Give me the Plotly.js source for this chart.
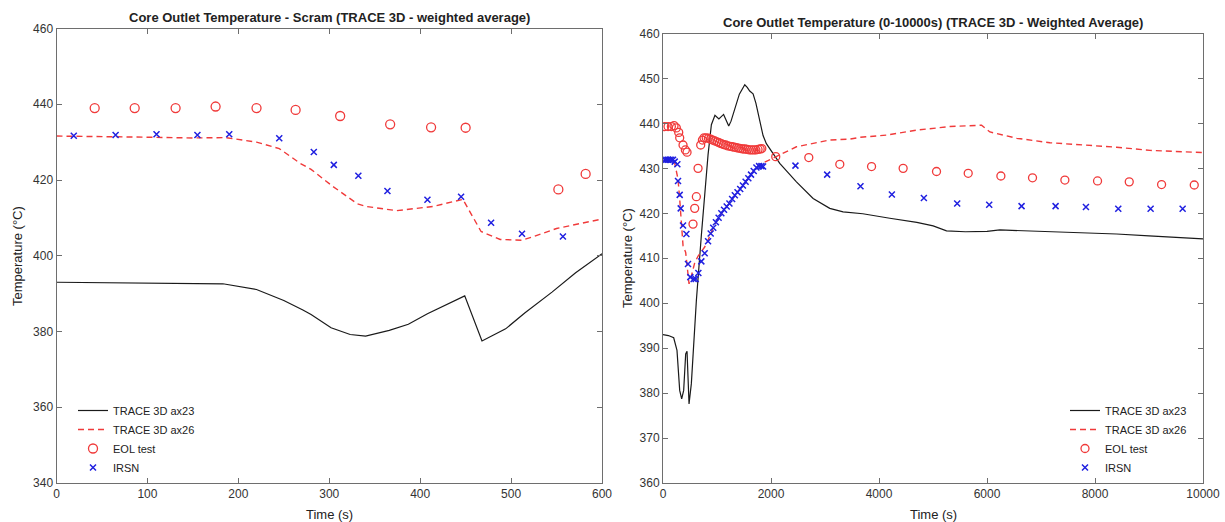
<!DOCTYPE html>
<html>
<head>
<meta charset="utf-8">
<script src="https://cdn.plot.ly/plotly-3.0.1.min.js"></script>
<style>html,body{margin:0;padding:0;background:#fff}#chart{width:1225px;height:522px}</style>
</head>
<body>
<div id="chart"></div>
<script>
// ---------- Left chart: Scram (0-600 s) ----------
const L_t_ax23 = [0, 50, 100, 150, 183, 220, 250, 271, 280, 302, 323, 340, 366, 387, 408, 449, 468, 494, 515, 545, 571, 600];
const L_T_ax23 = [393.0, 392.9, 392.7, 392.6, 392.6, 391.1, 388.2, 385.7, 384.5, 381.0, 379.2, 378.8, 380.3, 381.9, 384.7, 389.4, 377.5, 380.7, 384.9, 390.4, 395.5, 400.5];

const L_t_ax26 = [0, 50, 100, 150, 186, 220, 245, 268, 280, 304, 331, 341, 374, 414, 447, 467, 488, 512, 524, 550, 598, 600];
const L_T_ax26 = [431.6, 431.5, 431.3, 431.1, 431.2, 430.0, 428.3, 424.4, 422.8, 418.3, 413.7, 413.0, 411.9, 413.0, 414.9, 406.4, 404.3, 404.1, 405.0, 407.2, 409.7, 409.7];

const L_t_eol = [42, 86, 131, 175, 220, 263, 312, 367, 412, 450, 552, 582];
const L_T_eol = [439.0, 439.0, 439.0, 439.4, 439.0, 438.5, 436.9, 434.7, 433.9, 433.8, 417.5, 421.6];

const L_t_irsn = [19, 65, 110, 155, 190, 245, 283, 305, 332, 364, 408, 445, 478, 512, 557];
const L_T_irsn = [431.7, 431.9, 432.1, 431.9, 432.1, 431.0, 427.4, 424.0, 421.1, 417.1, 414.8, 415.6, 408.7, 405.8, 405.1];

// ---------- Right chart: 0-10000 s ----------
const R_t_ax23 = [0, 100, 198, 259, 309, 346, 383, 420, 445, 469, 482, 525, 574, 618, 711, 773, 834, 896, 962, 1035, 1122, 1217, 1260, 1414, 1514, 1560, 1606, 1668, 1720, 1853, 1914, 2162, 2471, 2780, 3088, 3335, 3700, 4200, 4700, 5003, 5250, 5600, 6000, 6238, 6700, 7165, 7800, 8400, 9000, 10000];
const R_T_ax23 = [393.0, 392.8, 392.3, 389.5, 380.6, 378.7, 380.6, 388.7, 389.3, 379.1, 377.6, 382.1, 392.4, 400.6, 415.2, 424.1, 433.0, 439.7, 441.8, 441.0, 442.0, 439.4, 440.5, 446.5, 448.6, 448.0, 447.2, 446.6, 444.5, 437.3, 435.5, 431.1, 427.0, 423.3, 421.1, 420.3, 419.9, 418.9, 418.0, 417.2, 416.1, 415.9, 416.0, 416.3, 416.1, 415.9, 415.7, 415.4, 415.0, 414.3];

const R_t_ax26 = [0, 175, 216, 248, 278, 309, 340, 371, 420, 451, 482, 525, 587, 650, 710, 772, 834, 883, 930, 980, 1030, 1080, 1130, 1180, 1230, 1330, 1430, 1530, 1630, 1730, 1853, 2088, 2471, 3088, 3459, 3644, 4138, 4694, 5312, 5899, 6053, 6547, 7165, 7782, 8400, 9018, 10000];
const R_T_ax26 = [431.6, 431.5, 431.2, 428.8, 427.6, 423.2, 417.3, 412.8, 411.3, 406.9, 404.3, 406.0, 409.0, 410.5, 411.5, 412.5, 414.0, 415.5, 416.8, 418.0, 419.0, 420.0, 420.8, 421.5, 422.2, 424.0, 425.4, 427.0, 428.6, 430.2, 431.2, 432.6, 434.8, 436.3, 436.5, 436.9, 437.4, 438.5, 439.3, 439.6, 438.1, 436.7, 435.7, 435.2, 434.7, 434.0, 433.5];

const R_t_eol = [31, 93, 155, 204, 247, 291, 309, 371, 414, 445, 556, 587, 618, 649, 698, 730, 760,
  800, 840, 880, 920, 960, 1000, 1040, 1080, 1120, 1160, 1200, 1240, 1280, 1320, 1360, 1400, 1440, 1480, 1520, 1560, 1600, 1640, 1680, 1720, 1760, 1800, 1830,
  2088, 2700, 3274, 3862, 4447, 5065, 5652, 6257, 6843, 7442, 8047, 8634, 9233, 9838];
const R_T_eol = [439.3, 439.3, 439.3, 439.5, 439.0, 438.0, 436.8, 435.2, 434.1, 433.6, 417.6, 421.1, 423.7, 430.0, 435.2, 436.3, 436.8,
  436.8, 436.7, 436.5, 436.3, 436.1, 435.9, 435.7, 435.5, 435.3, 435.2, 435.0, 434.9, 434.8, 434.7, 434.6, 434.5, 434.4, 434.3, 434.3, 434.2, 434.1, 434.1, 434.1, 434.1, 434.2, 434.3, 434.4,
  432.6, 432.4, 430.9, 430.4, 430.0, 429.3, 428.9, 428.3, 427.9, 427.4, 427.2, 427.0, 426.4, 426.3];

const R_t_irsn = [31, 62, 93, 124, 155, 186, 217, 266, 278, 309, 328, 371, 433, 463, 506, 568, 605, 655, 710, 772,
  834, 883, 930, 980, 1030, 1080, 1130, 1180, 1230, 1280, 1330, 1380, 1430, 1480, 1530, 1580, 1630, 1680, 1730, 1780, 1823, 1853,
  2453, 3040, 3657, 4238, 4831, 5448, 6041, 6640, 7270, 7832, 8431, 9030, 9623];
const R_T_irsn = [431.9, 431.9, 431.9, 431.9, 431.9, 431.9, 431.5, 430.9, 427.2, 424.1, 421.1, 417.3, 415.4, 408.7, 405.8, 405.4, 405.4, 406.7, 409.3, 411.1,
  413.8, 415.5, 416.8, 418.0, 419.0, 420.0, 420.8, 421.5, 422.2, 423.2, 424.0, 424.7, 425.4, 426.2, 427.0, 427.8, 428.6, 429.4, 430.2, 430.5, 430.5, 430.4,
  430.6, 428.6, 426.0, 424.2, 423.4, 422.2, 421.9, 421.6, 421.6, 421.4, 421.0, 421.0, 421.0];

const names = ['TRACE 3D ax23', 'TRACE 3D ax26', 'EOL test', 'IRSN'];
const leftTitle = 'Core Outlet Temperature - Scram (TRACE 3D - weighted average)';
const rightTitle = 'Core Outlet Temperature (0-10000s) (TRACE 3D - Weighted Average)';
const xLabel = 'Time (s)';
const yLabel = 'Temperature (°C)';

const BLACK = '#1a1a1a', RED = '#f03a3a', BLUE = '#2020e0';

function series(tA23, TA23, tA26, TA26, tE, TE, tI, TI, xa, ya, leg, msize) {
  return [
    {x: tA23, y: TA23, xaxis: xa, yaxis: ya, legend: leg, name: names[0], mode: 'lines', line: {color: BLACK, width: 1.2}},
    {x: tA26, y: TA26, xaxis: xa, yaxis: ya, legend: leg, name: names[1], mode: 'lines', line: {color: RED, width: 1.4, dash: '6px,4px'}},
    {x: tE, y: TE, xaxis: xa, yaxis: ya, legend: leg, name: names[2], mode: 'markers', marker: {symbol: 'circle-open', size: msize, color: RED, line: {width: 1.3, color: RED}}},
    {x: tI, y: TI, xaxis: xa, yaxis: ya, legend: leg, name: names[3], mode: 'markers', marker: {symbol: 'x-thin-open', size: 6, color: BLUE, line: {width: 1.5, color: BLUE}}}
  ];
}

const data = [].concat(
  series(L_t_ax23, L_T_ax23, L_t_ax26, L_T_ax26, L_t_eol, L_T_eol, L_t_irsn, L_T_irsn, 'x', 'y', 'legend', 9),
  series(R_t_ax23, R_T_ax23, R_t_ax26, R_T_ax26, R_t_eol, R_T_eol, R_t_irsn, R_T_irsn, 'x2', 'y2', 'legend2', 8)
);

const W = 1225, H = 522;
const axCommon = {
  showgrid: false, zeroline: false, showline: true, mirror: 'allticks',
  linecolor: '#6e6e6e', linewidth: 1, ticks: 'inside', ticklen: 5, tickcolor: '#6e6e6e',
  tickformat: 'd',
  tickfont: {family: 'Liberation Sans, Arial, sans-serif', size: 12, color: '#333'}
};
const legCommon = {
  bgcolor: 'rgba(0,0,0,0)', borderwidth: 0, xanchor: 'left', yanchor: 'top',
  font: {family: 'Liberation Sans, Arial, sans-serif', size: 11, color: '#222'},
  tracegroupgap: 0, itemwidth: 30
};
const annFont = {family: 'Liberation Sans, Arial, sans-serif', size: 13, color: '#222'};
function ann(text, px, py, opts) {
  return Object.assign({text: text, x: px / W, y: 1 - py / H, xref: 'paper', yref: 'paper', showarrow: false, xanchor: 'center', yanchor: 'middle', font: annFont}, opts || {});
}

const layout = {
  width: W, height: H, margin: {l: 0, r: 0, t: 0, b: 0},
  paper_bgcolor: '#fff', plot_bgcolor: '#fff', showlegend: true,
  xaxis: Object.assign({}, axCommon, {domain: [56.5 / W, 602 / W], range: [0, 600], tickvals: [0, 100, 200, 300, 400, 500, 600], anchor: 'y'}),
  yaxis: Object.assign({}, axCommon, {domain: [1 - 483 / H, 1 - 28.5 / H], range: [340, 460], tickvals: [340, 360, 380, 400, 420, 440, 460], anchor: 'x'}),
  xaxis2: Object.assign({}, axCommon, {domain: [663 / W, 1203 / W], range: [0, 10000], tickvals: [0, 2000, 4000, 6000, 8000, 10000], anchor: 'y2'}),
  yaxis2: Object.assign({}, axCommon, {domain: [1 - 483 / H, 1 - 33.5 / H], range: [360, 460], tickvals: [360, 370, 380, 390, 400, 410, 420, 430, 440, 450, 460], anchor: 'x2'}),
  legend: Object.assign({}, legCommon, {x: 73 / W, y: 1 - 396 / H}),
  legend2: Object.assign({}, legCommon, {x: 1065 / W, y: 1 - 396 / H}),
  annotations: [
    ann('<b>' + leftTitle + '</b>', 329, 17),
    ann('<b>' + rightTitle + '</b>', 933, 22),
    ann(xLabel, 329, 514),
    ann(xLabel, 933, 514),
    ann(yLabel, 18, 256, {textangle: -90}),
    ann(yLabel, 627, 258, {textangle: -90})
  ]
};

Plotly.newPlot('chart', data, layout, {staticPlot: true, displayModeBar: false});
</script>
</body>
</html>
